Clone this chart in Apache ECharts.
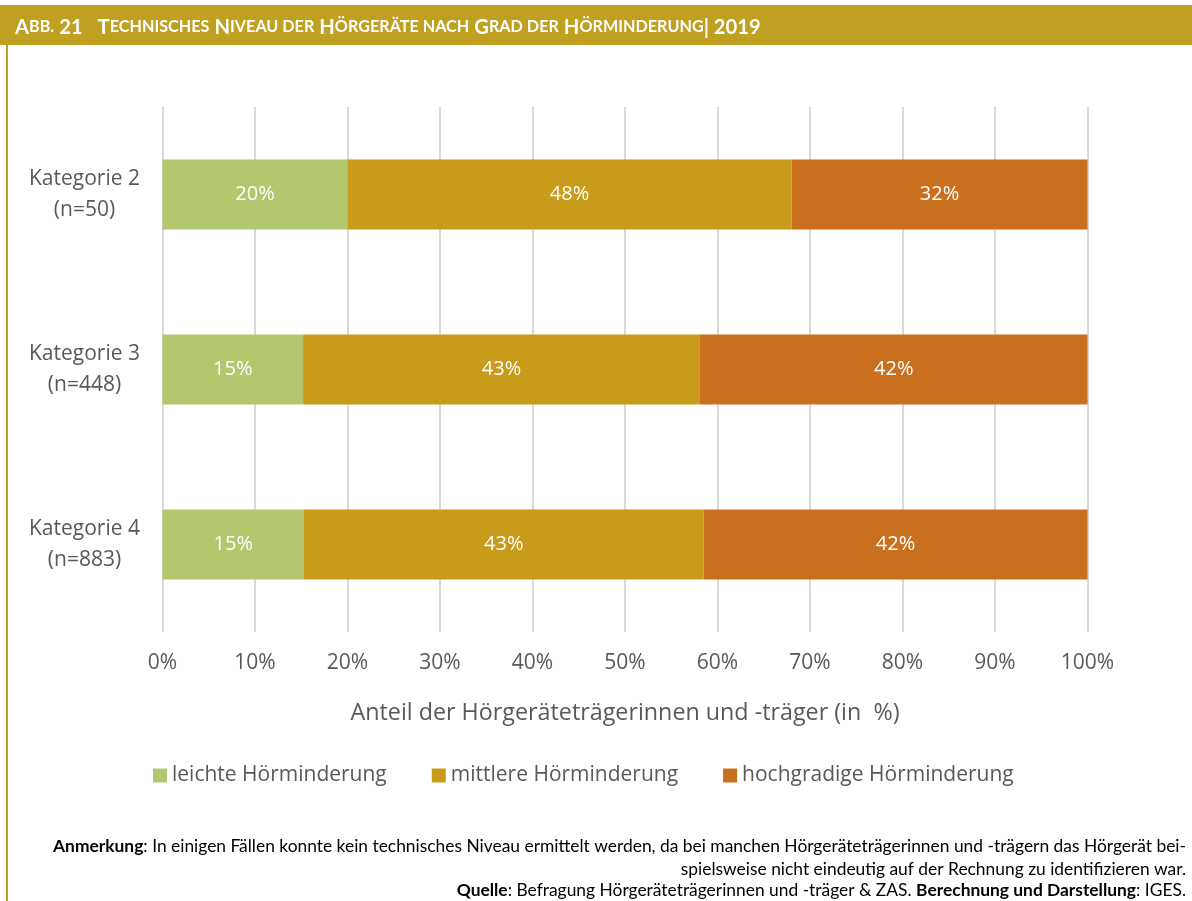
<!DOCTYPE html>
<html>
<head>
<meta charset="utf-8">
<script src="https://cdn.jsdelivr.net/npm/echarts@6/dist/echarts.min.js"></script>
<style>
  html, body { margin: 0; padding: 0; background: #fff; }
  #main { width: 1192px; height: 901px; }
</style>
</head>
<body>
<div id="main"></div>
<script>
// data
var categories = ['Kategorie 2\n(n=50)', 'Kategorie 3\n(n=448)', 'Kategorie 4\n(n=883)'];
var leicht = [20.0, 15.2, 15.3];
var mittlere = [48.0, 42.9, 43.2];
var hochgradig = [32.0, 41.9, 41.5];
var seriesNames = ['leichte Hörminderung', 'mittlere Hörminderung', 'hochgradige Hörminderung'];
var colors = ['#B3C86E', '#C89B1A', '#C9701F'];

var font = 'Open Sans';
var noteFont = 'Lato';
var gold = '#C0A020';
var noteSize = 17.4;

var myChart = echarts.init(document.getElementById('main'));

function barSeries(name, data, color) {
    return {
        name: name,
        type: 'bar',
        stack: 'total',
        barWidth: 70,
        data: data,
        itemStyle: { color: color },
        label: {
            show: true,
            position: 'inside',
            color: '#fff',
            fontFamily: font,
            fontSize: 20,
            formatter: function (p) { return Math.round(p.value) + '%' }
        }
    }
}

var option = {
    animation: false,
    color: colors,
    title: {
        left: 10,
        top: 12,
        text: '{b|A}{s|BB.} {b|21}   {b|T}{s|ECHNISCHES} {b|N}{s|IVEAU DER} {b|H}{s|ÖRGERÄTE NACH} {b|G}{s|RAD DER} {b|H}{s|ÖRMINDERUNG}{b|| 2019}',
        textStyle: {
            rich: {
                b: { color: '#fff', fontWeight: 'bold', fontSize: 20.2, fontFamily: noteFont },
                s: { color: '#fff', fontWeight: 'bold', fontSize: 16.2, fontFamily: noteFont }
            }
        }
    },
    graphic: [
        { type: 'rect', z: -1, shape: { x: 0, y: 5, width: 1192, height: 40 }, style: { fill: gold } },
        { type: 'rect', z: -1, shape: { x: 6, y: 45, width: 2, height: 856 }, style: { fill: gold } },
        {
            type: 'text', right: 6, top: 838,
            style: {
                text: '{b|Anmerkung}: In einigen Fällen konnte kein technisches Niveau ermittelt werden, da bei manchen Hörgeräteträgerinnen und -trägern das Hörgerät bei-',
                align: 'right', fontFamily: noteFont, fontSize: noteSize, fill: '#000',
                rich: { b: { fontWeight: 'bold', fontFamily: noteFont, fontSize: noteSize } }
            }
        },
        {
            type: 'text', right: 6, top: 861,
            style: {
                text: 'spielsweise nicht eindeutig auf der Rechnung zu identifizieren war.',
                align: 'right', fontFamily: noteFont, fontSize: noteSize, fill: '#000'
            }
        },
        {
            type: 'text', right: 6, top: 882,
            style: {
                text: '{b|Quelle}: Befragung Hörgeräteträgerinnen und -träger & ZAS. {b|Berechnung und Darstellung}: IGES.',
                align: 'right', fontFamily: noteFont, fontSize: noteSize, fill: '#000',
                rich: { b: { fontWeight: 'bold', fontFamily: noteFont, fontSize: noteSize } }
            }
        }
    ],
    legend: {
        data: seriesNames,
        left: 148,
        top: 760,
        itemWidth: 14,
        itemHeight: 14,
        itemGap: 45,
        icon: 'rect',
        textStyle: { fontFamily: font, fontSize: 21, color: '#595959' }
    },
    grid: { left: 162.5, right: 104.5, top: 107, bottom: 269 },
    xAxis: {
        type: 'value',
        min: 0,
        max: 100,
        interval: 10,
        axisLine: { show: false },
        axisTick: { show: false },
        splitLine: { lineStyle: { color: '#D9D9D9', width: 2 } },
        axisLabel: {
            margin: 21,
            fontFamily: font, fontSize: 21, color: '#595959',
            formatter: '{value}%'
        },
        name: 'Anteil der Hörgeräteträgerinnen und -träger (in  %)',
        nameLocation: 'middle',
        nameGap: 70,
        nameTextStyle: { fontFamily: font, fontSize: 23.3, color: '#595959' }
    },
    yAxis: {
        type: 'category',
        inverse: true,
        data: categories,
        axisLine: { show: false },
        axisTick: { show: false },
        axisLabel: {
            align: 'center',
            margin: 78,
            lineHeight: 31,
            padding: [5, 0, 0, 0],
            fontFamily: font, fontSize: 21, color: '#595959'
        }
    },
    series: [
        barSeries(seriesNames[0], leicht, colors[0]),
        barSeries(seriesNames[1], mittlere, colors[1]),
        barSeries(seriesNames[2], hochgradig, colors[2])
    ]
};

myChart.setOption(option);
</script>
</body>
</html>
